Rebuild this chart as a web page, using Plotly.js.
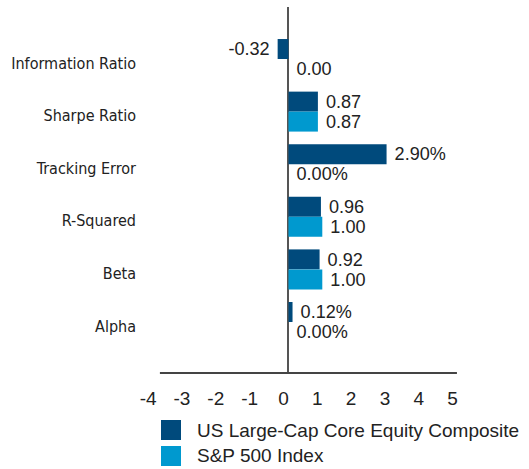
<!DOCTYPE html>
<html>
<head>
<meta charset="utf-8">
<script src="https://cdn.plot.ly/plotly-3.0.1.min.js"></script>
<style>html,body{margin:0;padding:0;background:#fff;}#chart{width:529px;height:469px;}</style>
</head>
<body>
<div id="chart"></div>
<script>
const categories = ["Information Ratio", "Sharpe Ratio", "Tracking Error", "R-Squared", "Beta", "Alpha"];
const units = ["", "", "%", "", "", "%"];
const compositeName = "US Large-Cap Core Equity Composite";
const compositeValues = [-0.32, 0.87, 2.90, 0.96, 0.92, 0.12];
const indexName = "S&P 500 Index";
const indexValues = [0.00, 0.87, 0.00, 1.00, 1.00, 0.00];
const xTicks = [-4, -3, -2, -1, 0, 1, 2, 3, 4, 5];

const navy = "#004a7c";
const sky = "#0099cf";
const txt = "#222222";
const NB = "\u00a0";

function labels(vals) {
  return vals.map((v, i) => {
    const s = v.toFixed(2) + units[i];
    return v < 0 ? s + NB : NB + s;
  });
}

const traces = [
  {type: "bar", orientation: "h", name: compositeName, y: categories, x: compositeValues,
   marker: {color: navy}, text: labels(compositeValues), textposition: "outside",
   textfont: {size: 19, color: txt, family: "Liberation Sans, Arial, sans-serif"},
   cliponaxis: false, hoverinfo: "none"},
  {type: "bar", orientation: "h", name: indexName, y: categories, x: indexValues,
   marker: {color: sky}, text: labels(indexValues), textposition: "outside",
   textfont: {size: 19, color: txt, family: "Liberation Sans, Arial, sans-serif"},
   cliponaxis: false, hoverinfo: "none"}
];

const layout = {
  width: 529, height: 469,
  margin: {l: 143, r: 68, t: 7, b: 96, pad: 0},
  paper_bgcolor: "#fff", plot_bgcolor: "#fff",
  font: {family: "Liberation Sans, Arial, sans-serif", size: 19, color: txt},
  barmode: "group", bargap: 0.24, bargroupgap: 0,
  showlegend: false,
  xaxis: {range: [-4.3, 5.1], tickvals: xTicks, ticktext: xTicks.map(String),
          showgrid: false, showline: false, zeroline: true, zerolinecolor: "#555", zerolinewidth: 2,
          ticks: "outside", ticklen: 8, tickcolor: "rgba(0,0,0,0)", ticklabelshift: -5,
          tickfont: {size: 19, color: txt}, fixedrange: true},
  yaxis: {type: "category", categoryorder: "array", categoryarray: categories,
          range: [5.97, -0.989], showgrid: false, showline: false, zeroline: false,
          ticks: "", ticklabelstandoff: 6, ticklabelshift: -4,
          tickfont: {size: 16, color: txt, family: "DejaVu Sans Condensed, Liberation Sans, Arial, sans-serif"},
          fixedrange: true},
  shapes: [
    {type: "line", xref: "x", yref: "paper", x0: -3.8, x1: 4.98, y0: 0, y1: 0,
     line: {color: "#444", width: 2}, layer: "above"},
    {type: "rect", xref: "paper", yref: "paper",
     x0: (161 - 143) / 318, x1: (181 - 143) / 318, y0: -(420 - 373) / 366, y1: -(440 - 373) / 366,
     fillcolor: navy, line: {width: 0}},
    {type: "rect", xref: "paper", yref: "paper",
     x0: (161 - 143) / 318, x1: (181 - 143) / 318, y0: -(446 - 373) / 366, y1: -(466 - 373) / 366,
     fillcolor: sky, line: {width: 0}}
  ],
  annotations: [
    {xref: "paper", yref: "paper", x: (195 - 143) / 318, y: -(430 - 373) / 366, xanchor: "left", yanchor: "middle",
     text: compositeName, showarrow: false, font: {size: 19, color: txt}},
    {xref: "paper", yref: "paper", x: (195 - 143) / 318, y: -(456 - 373) / 366, xanchor: "left", yanchor: "middle",
     text: indexName.replace("&", "&amp;"), showarrow: false, font: {size: 19, color: txt}}
  ]
};

Plotly.newPlot("chart", traces, layout, {displayModeBar: false, staticPlot: true});
</script>
</body>
</html>
